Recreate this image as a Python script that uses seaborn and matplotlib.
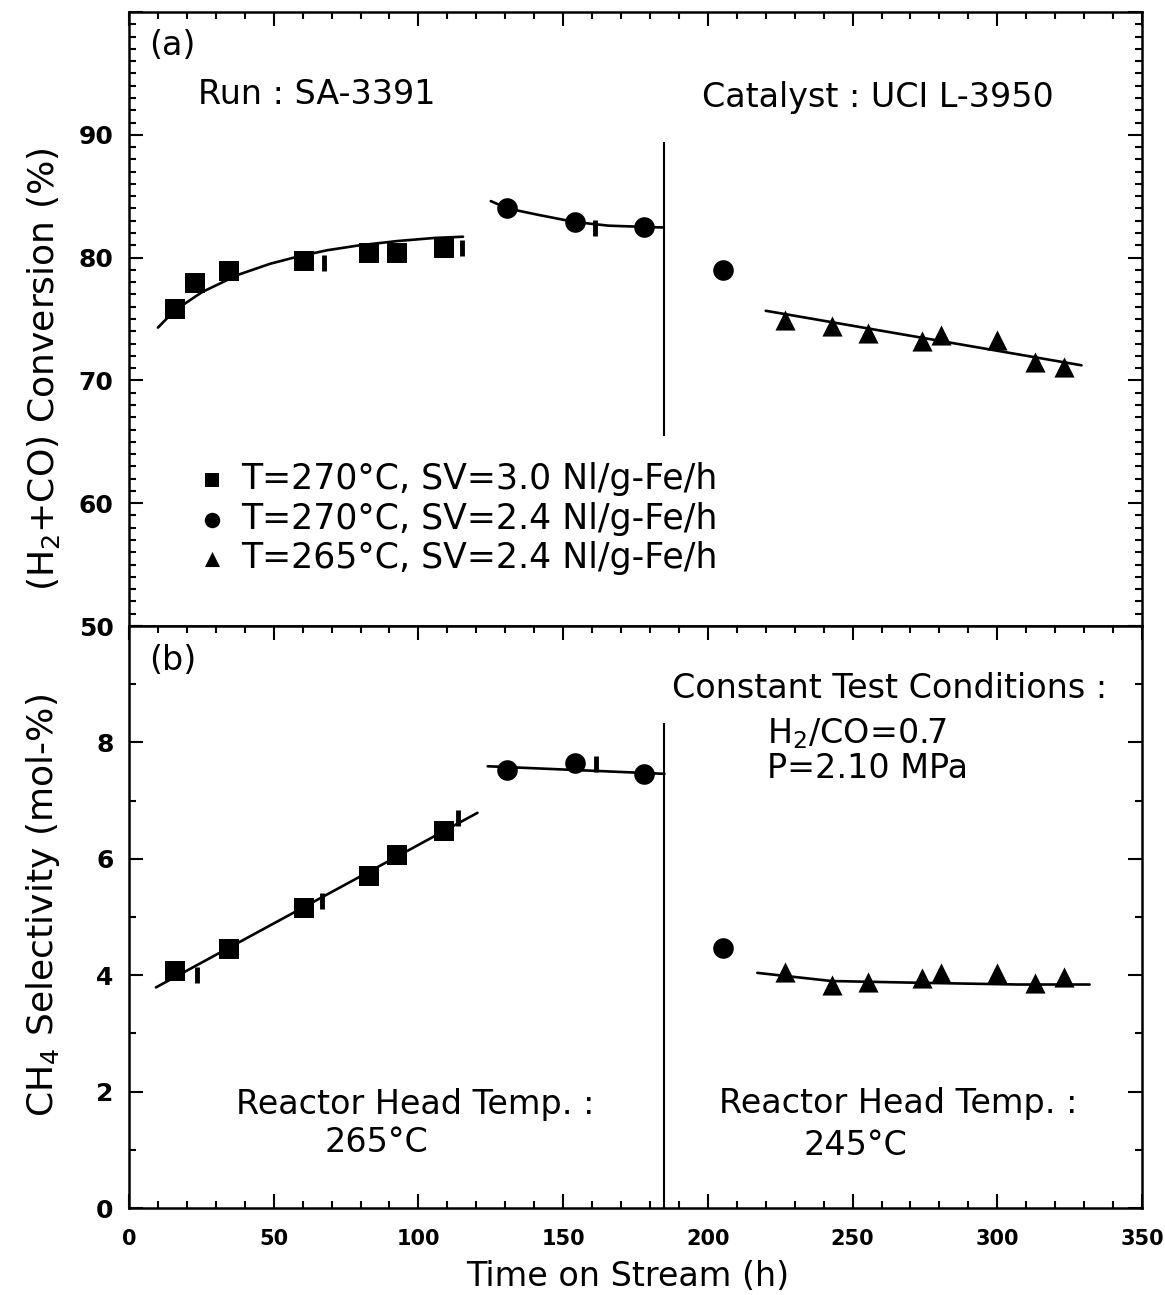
import matplotlib
matplotlib.use("Agg")
import matplotlib.pyplot as plt
import numpy as np
import pandas as pd
import seaborn as sns
from matplotlib.ticker import MultipleLocator

# ---- measurement times on stream (h) ----
sq_time = [15.8, 22.8, 34.4, 60.3, 83.0, 92.7, 108.9]
ci_time = [130.5, 154.1, 178.1, 205.4]
tr_time = [226.8, 242.8, 255.5, 274.0, 280.7, 300.0, 313.1, 323.2]

# ---- (a) (H2+CO) conversion, % ----
sq_conv = [75.8, 77.9, 78.9, 79.7, 80.4, 80.4, 80.8]
ci_conv = [84.0, 82.9, 82.5, 79.0]
tr_conv = [74.9, 74.4, 73.9, 73.2, 73.7, 73.3, 71.5, 71.1]

# ---- (b) CH4 selectivity, mol-% ----
sq_ch4_time = [15.8, 34.4, 60.3, 83.0, 92.7, 108.9]
sq_ch4 = [4.08, 4.45, 5.16, 5.71, 6.07, 6.47]
ci_ch4 = [7.53, 7.64, 7.46, 4.47]
tr_ch4 = [4.05, 3.83, 3.89, 3.96, 4.03, 4.04, 3.86, 3.97]

# symbols that are only partly printed
frag_conv_time = [67.3, 115.0, 161.0]
frag_conv = [79.6, 80.8, 82.45]
frag_ch4_time = [23.6, 66.8, 113.8, 161.4]
frag_ch4 = [4.0, 5.28, 6.70, 7.63]

# ---- trend curves ----
fit_conv_sq_t = [10.0, 15.8, 25.3, 37.7, 48.8, 58.6, 68.5, 79.6, 92.8, 105.5, 115.4]
fit_conv_sq_v = [74.3, 75.7, 77.2, 78.6, 79.5, 80.1, 80.6, 81.0, 81.35, 81.6, 81.7]
fit_conv_ci_t = [125.0, 130.9, 141.0, 154.0, 165.7, 178.1, 184.8]
fit_conv_ci_v = [84.6, 84.0, 83.5, 82.9, 82.6, 82.5, 82.45]
fit_conv_tr_t = [220.0, 329.1]
fit_conv_tr_v = [75.67, 71.23]

fit_ch4_sq_t = [9.3, 120.4]
fit_ch4_sq_v = [3.79, 6.79]
fit_ch4_ci_t = [123.9, 185.0]
fit_ch4_ci_v = [7.59, 7.46]
fit_ch4_tr_t = [217.1, 242.7, 272.6, 307.2, 331.9]
fit_ch4_tr_v = [4.04, 3.90, 3.87, 3.84, 3.84]

# change of reactor head temperature
switch_time = 185.0
switch_conv = [65.5, 89.4]
switch_ch4 = [0.0, 8.33]

legend_labels = ["T=270°C, SV=3.0 Nl/g-Fe/h",
                 "T=270°C, SV=2.4 Nl/g-Fe/h",
                 "T=265°C, SV=2.4 Nl/g-Fe/h"]

sns.set_theme(style="ticks")
plt.rcParams["font.family"] = ["DejaVu Sans"]
plt.rcParams["mathtext.fontset"] = "dejavusans"
for key in ("text.color", "axes.labelcolor", "xtick.color", "ytick.color",
            "axes.edgecolor"):
    plt.rcParams[key] = "black"

W, H = 1165, 1295
fig = plt.figure(figsize=(W / 100, H / 100), dpi=100)
fig.patch.set_facecolor("white")

left_px, right_px = 129, 1142
top1, mid, bot2 = 12, 626, 1208
ax1 = fig.add_axes([left_px / W, 1 - mid / H, (right_px - left_px) / W, (mid - top1) / H])
ax2 = fig.add_axes([left_px / W, 1 - bot2 / H, (right_px - left_px) / W, (bot2 - mid) / H],
                   sharex=ax1)

MS = 195
LW = 1.9


def draw_series(ax, t_sq, v_sq, t_ci, v_ci, t_tr, v_tr, with_labels):
    lab = legend_labels if with_labels else [None, None, None]
    sns.scatterplot(x=t_sq, y=v_sq, marker="s", s=MS, color="black", linewidth=0,
                    ax=ax, label=lab[0], zorder=3)
    sns.scatterplot(x=t_ci, y=v_ci, marker="o", s=MS + 25, color="black", linewidth=0,
                    ax=ax, label=lab[1], zorder=3)
    sns.scatterplot(x=t_tr, y=v_tr, marker="^", s=MS + 15, color="black", linewidth=0,
                    ax=ax, label=lab[2], zorder=3)


def draw_curve(ax, t, v):
    sns.lineplot(x=t, y=v, color="black", linewidth=LW, sort=False,
                 estimator=None, ax=ax, zorder=2)


# ---------- panel (a) ----------
draw_series(ax1, sq_time, sq_conv, ci_time, ci_conv, tr_time, tr_conv, True)
sns.scatterplot(x=frag_conv_time, y=frag_conv, marker="|", s=120, color="black",
                linewidth=3.5, ax=ax1, zorder=3)
draw_curve(ax1, fit_conv_sq_t, fit_conv_sq_v)
draw_curve(ax1, fit_conv_ci_t, fit_conv_ci_v)
draw_curve(ax1, fit_conv_tr_t, fit_conv_tr_v)
ax1.vlines(switch_time, switch_conv[0], switch_conv[1], color="black", linewidth=1.5)

# ---------- panel (b) ----------
draw_series(ax2, sq_ch4_time, sq_ch4, ci_time, ci_ch4, tr_time, tr_ch4, False)
sns.scatterplot(x=frag_ch4_time, y=frag_ch4, marker="|", s=120, color="black",
                linewidth=3.5, ax=ax2, zorder=3)
draw_curve(ax2, fit_ch4_sq_t, fit_ch4_sq_v)
draw_curve(ax2, fit_ch4_ci_t, fit_ch4_ci_v)
draw_curve(ax2, fit_ch4_tr_t, fit_ch4_tr_v)
ax2.vlines(switch_time, switch_ch4[0], switch_ch4[1], color="black", linewidth=1.5)

# ---------- axes ----------
ax1.set_xlim(0, 350)
ax1.set_ylim(50, 100)
ax2.set_ylim(0, 10)

ax1.set_yticks([50, 60, 70, 80, 90, 100], ["50", "60", "70", "80", "90", ""])
ax1.yaxis.set_minor_locator(MultipleLocator(1))
ax2.set_yticks([0, 2, 4, 6, 8, 10], ["0", "2", "4", "6", "8", ""])
ax2.yaxis.set_minor_locator(MultipleLocator(1))
ax2.set_xticks(range(0, 351, 50))
ax2.xaxis.set_minor_locator(MultipleLocator(10))

for ax in (ax1, ax2):
    ax.set_facecolor("white")
    for sp in ax.spines.values():
        sp.set_visible(True)
        sp.set_color("black")
        sp.set_linewidth(1.8)
    ax.tick_params(which="both", direction="in", color="black", left=True, right=True,
                   top=True, width=1.5)
    ax.tick_params(which="major", length=10)
    ax.tick_params(which="minor", length=5)
    ax.tick_params(axis="y", labelsize=18, pad=11)
    ax.tick_params(axis="x", labelsize=15, pad=15)
    for lbl in ax.get_xticklabels() + ax.get_yticklabels():
        lbl.set_fontweight("bold")

ax1.tick_params(axis="x", which="both", bottom=False, labelbottom=False)

ax1.set_xlabel("")
ax1.set_ylabel(r"(H$_2$+CO) Conversion (%)", fontsize=26)
ax1.yaxis.set_label_coords(-0.066, 0.418)
ax2.set_ylabel(r"CH$_4$ Selectivity (mol-%)", fontsize=26)
ax2.yaxis.set_label_coords(-0.066, 0.52)
ax2.set_xlabel("Time on Stream (h)", fontsize=24)
ax2.xaxis.set_label_coords(0.492, -0.089)

# ---------- legend ----------
handles, labels = ax1.get_legend_handles_labels()
ax1.legend(handles[:3], labels[:3], loc="upper left", bbox_to_anchor=(0.068, 0.267),
           frameon=False, fontsize=25, borderpad=0, borderaxespad=0,
           handlelength=0.8, handletextpad=0.45, labelspacing=0.16, markerscale=0.75)

# ---------- annotations ----------
TS = 24
ax1.text(7, 97.3, "(a)", fontsize=TS, ha="left", va="center")
ax1.text(24, 93.3, "Run : SA-3391", fontsize=TS, ha="left", va="center")
ax1.text(198, 93.0, "Catalyst : UCI L-3950", fontsize=TS, ha="left", va="center")

ax2.text(7, 9.4, "(b)", fontsize=TS, ha="left", va="center")
ax2.text(187.5, 8.93, "Constant Test Conditions :", fontsize=TS, ha="left", va="center")
ax2.text(220.5, 8.15, r"H$_2$/CO=0.7", fontsize=TS, ha="left", va="center")
ax2.text(220.5, 7.55, "P=2.10 MPa", fontsize=TS, ha="left", va="center")
ax2.text(36.8, 1.77, "Reactor Head Temp. :", fontsize=TS, ha="left", va="center")
ax2.text(85.6, 1.12, "265°C", fontsize=TS, ha="center", va="center")
ax2.text(203.8, 1.79, "Reactor Head Temp. :", fontsize=TS, ha="left", va="center")
ax2.text(251.0, 1.08, "245°C", fontsize=TS, ha="center", va="center")

fig.savefig("out.png", dpi=100, facecolor="white")
